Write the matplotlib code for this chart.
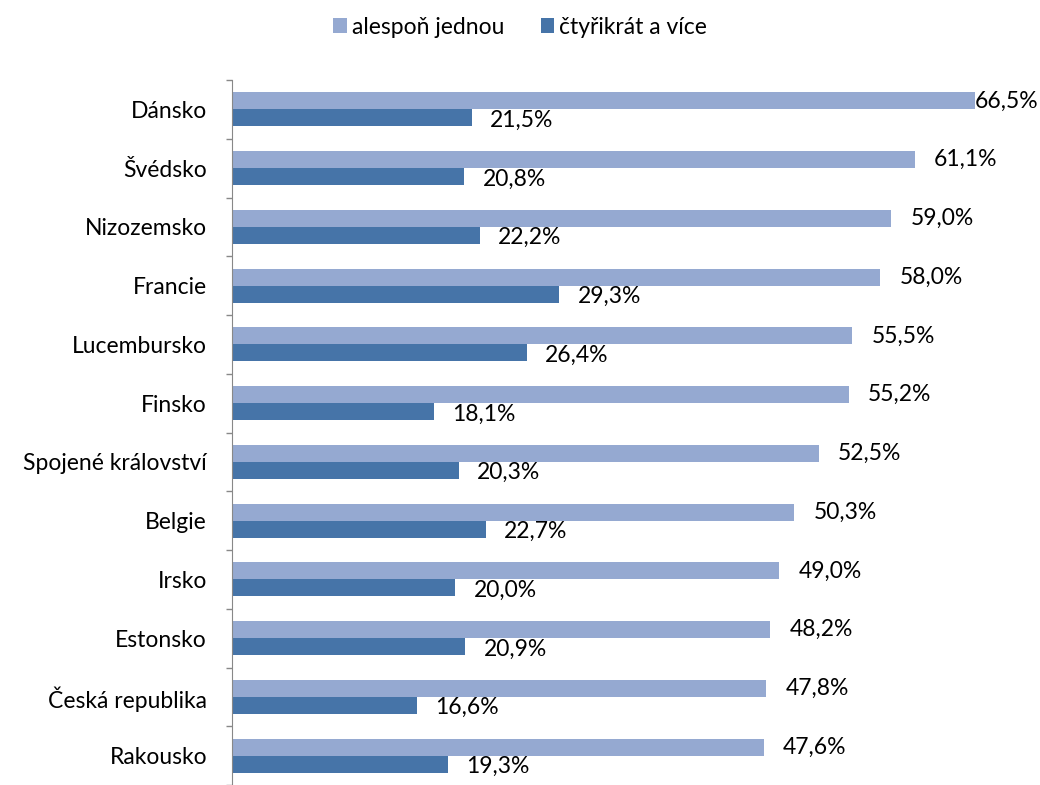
import matplotlib.pyplot as plt
import numpy as np

plt.rcParams['font.family'] = ['Lato', 'DejaVu Sans']

countries = ['Dánsko', 'Švédsko', 'Nizozemsko', 'Francie', 'Lucembursko', 'Finsko',
             'Spojené království', 'Belgie', 'Irsko', 'Estonsko', 'Česká republika', 'Rakousko']
at_least_once = [66.5, 61.1, 59.0, 58.0, 55.5, 55.2, 52.5, 50.3, 49.0, 48.2, 47.8, 47.6]
four_or_more = [21.5, 20.8, 22.2, 29.3, 26.4, 18.1, 20.3, 22.7, 20.0, 20.9, 16.6, 19.3]
series_names = ['alespoň jednou', 'čtyřikrát a více']

light = '#95A9D1'
dark = '#4674A8'
fs = 16.5

fig = plt.figure(figsize=(10.4, 7.85), dpi=100)
ax = fig.add_axes([232/1040, 0.0, 782/1040, 1 - 80/785])

n = len(countries)
y = np.arange(n)
h = 0.29
b1 = ax.barh(y - h/2, at_least_once, height=h, color=light, label=series_names[0])
b2 = ax.barh(y + h/2, four_or_more, height=h, color=dark, label=series_names[1])

def fmt(v):
    return f'{v:.1f}%'.replace('.', ',')

vmax = max(at_least_once)
for bar, v in zip(b1, at_least_once):
    off = 0 if v == vmax else 14
    ax.annotate(fmt(v), (v, bar.get_y() + bar.get_height()/2), xytext=(off, 0),
                textcoords='offset points', ha='left', va='center', fontsize=fs,
                annotation_clip=False)
for bar, v in zip(b2, four_or_more):
    ax.annotate(fmt(v), (v, bar.get_y() + bar.get_height()/2 + 0.04), xytext=(13, 0),
                textcoords='offset points', ha='left', va='center', fontsize=fs,
                annotation_clip=False)

ax.set_xlim(0, 70)
ax.set_ylim(n - 0.5, -0.5)
ax.set_yticks(y)
ax.set_yticklabels(countries, fontsize=fs)
ax.set_yticks(np.arange(-0.5, n, 1), minor=True)
ax.tick_params(axis='y', which='major', length=0, pad=18)
ax.tick_params(axis='y', which='minor', length=4.5, color='#888888', width=1)
ax.set_xticks([])
for s in ['top', 'right', 'bottom']:
    ax.spines[s].set_visible(False)
ax.spines['left'].set_color('#888888')

fig.legend(handles=[b1, b2], loc='center', bbox_to_anchor=(0.5, 1 - 27/785), ncol=2,
           frameon=False, fontsize=fs, handlelength=0.6, handleheight=0.6,
           handletextpad=0.2, columnspacing=1.6)

fig.savefig('out.png', dpi=100)
